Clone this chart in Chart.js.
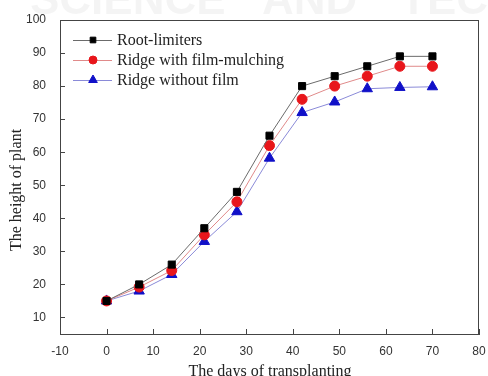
<!DOCTYPE html>
<html>
<head>
<meta charset="utf-8">
<script src="https://cdn.jsdelivr.net/npm/chart.js@4/dist/chart.umd.min.js"></script>
<style>
  html, body { margin: 0; padding: 0; background: #fff; }
  #wrap { width: 488px; height: 376px; }
</style>
</head>
<body>
<div id="wrap"><canvas id="chart" width="488" height="376"></canvas></div>
<script>
// data
const days = [0, 7, 14, 21, 28, 35, 42, 49, 56, 63, 70];
const rootLimiters = [15, 20, 26, 37, 48, 65, 80, 83, 86, 89, 89];
const filmMulching = [15, 19.2, 24.2, 35, 45, 62, 76, 80, 83, 86, 86];
const withoutFilm = [15, 18, 23, 33, 42, 58.2, 72, 75.2, 79.2, 79.6, 79.8];
const seriesNames = ['Root-limiters', 'Ridge with film-mulching', 'Ridge without film'];
const xTicks = [-10, 0, 10, 20, 30, 40, 50, 60, 70, 80];
const yTicks = [10, 20, 30, 40, 50, 60, 70, 80, 90, 100];

const serif = '"Liberation Serif", "DejaVu Serif", serif';
const sans = '"Liberation Sans", Arial, sans-serif';

function toPoints(ys) {
    return days.map((d, i) => ({ x: d, y: ys[i] }));
}

// faint watermark behind everything
const watermark = {
    id: 'watermark',
    beforeDraw(chart) {
        const ctx = chart.ctx;
        ctx.save();
        ctx.fillStyle = 'rgba(0,0,0,0.045)';
        ctx.font = 'bold 44px ' + sans;
        ctx.textBaseline = 'middle';
        ctx.fillText('SCIENCE', 30, 2);
        ctx.fillText('AND', 262, 2);
        ctx.fillText('TEC', 400, 2);
        ctx.restore();
    }
};

// box frame, inward ticks, axis titles and legend inside the plot
const decorations = {
    id: 'decorations',
    afterDraw(chart) {
        const ctx = chart.ctx;
        const a = chart.chartArea;
        const xs = chart.scales.x, ys = chart.scales.y;
        ctx.save();
        ctx.strokeStyle = '#444';
        ctx.lineWidth = 1;
        ctx.strokeRect(a.left + 0.5, a.top + 0.5, a.right - a.left - 1, a.bottom - a.top);

        ctx.beginPath();
        xTicks.forEach(v => {
            const px = Math.round(xs.getPixelForValue(v)) + 0.5;
            ctx.moveTo(px, a.bottom);
            ctx.lineTo(px, a.bottom - 5);
        });
        yTicks.forEach(v => {
            const py = Math.round(ys.getPixelForValue(v)) + 0.5;
            ctx.moveTo(a.left, py);
            ctx.lineTo(a.left + 5, py);
        });
        ctx.stroke();

        // axis titles
        ctx.fillStyle = '#222';
        ctx.font = '16px ' + serif;
        ctx.textAlign = 'center';
        ctx.textBaseline = 'alphabetic';
        ctx.fillText('The days of transplanting', 270, 376);
        ctx.save();
        ctx.translate(21, 190);
        ctx.rotate(-Math.PI / 2);
        ctx.fillText('The height of plant', 0, 0);
        ctx.restore();

        // legend
        const rowsY = [40, 60, 80];
        chart.data.datasets.forEach((ds, i) => {
            const y = rowsY[i];
            ctx.strokeStyle = ds.borderColor;
            ctx.lineWidth = 1;
            ctx.beginPath();
            ctx.moveTo(73, y + 0.5);
            ctx.lineTo(112, y + 0.5);
            ctx.stroke();
            ctx.fillStyle = ds.pointBackgroundColor;
            ctx.strokeStyle = ds.pointBorderColor;
            Chart.helpers.drawPoint(ctx, {
                pointStyle: ds.pointStyle,
                radius: ds.pointRadius - 1,
                borderWidth: 1,
                rotation: 0
            }, 93, y);
            ctx.fillStyle = '#222';
            ctx.font = '16px ' + serif;
            ctx.textAlign = 'left';
            ctx.textBaseline = 'middle';
            ctx.fillText(seriesNames[i], 117, y + 1);
        });
        ctx.restore();
    }
};

new Chart(document.getElementById('chart'), {
    type: 'line',
    data: {
        datasets: [
            {
                label: seriesNames[0],
                data: toPoints(rootLimiters),
                borderColor: '#6b6b6b',
                borderWidth: 1,
                pointStyle: 'rect',
                pointRadius: 5,
                pointBackgroundColor: '#000',
                pointBorderColor: '#000'
            },
            {
                label: seriesNames[1],
                data: toPoints(filmMulching),
                borderColor: '#e08a8a',
                borderWidth: 1,
                pointStyle: 'circle',
                pointRadius: 5,
                pointBackgroundColor: '#e8161b',
                pointBorderColor: '#e8161b'
            },
            {
                label: seriesNames[2],
                data: toPoints(withoutFilm),
                borderColor: '#8a8ad8',
                borderWidth: 1,
                pointStyle: 'triangle',
                pointRadius: 6,
                pointBackgroundColor: '#1010c8',
                pointBorderColor: '#1010c8'
            }
        ]
    },
    options: {
        responsive: false,
        animation: false,
        layout: { padding: { top: 20, right: 9, left: 0, bottom: 0 } },
        plugins: {
            legend: { display: false },
            tooltip: { enabled: false }
        },
        scales: {
            x: {
                type: 'linear',
                min: -10,
                max: 80,
                afterBuildTicks: s => { s.ticks = xTicks.map(v => ({ value: v })); },
                afterFit: s => { s.height = 42; },
                grid: { display: false },
                border: { display: true, color: '#444' },
                ticks: { color: '#333', font: { family: sans, size: 12 }, padding: 2 }
            },
            y: {
                min: 5,
                max: 100,
                afterBuildTicks: s => { s.ticks = yTicks.map(v => ({ value: v })); },
                afterFit: s => { s.width = 60; },
                grid: { display: false },
                border: { display: true, color: '#444' },
                ticks: { color: '#333', font: { family: sans, size: 12 }, padding: 6 }
            }
        }
    },
    plugins: [watermark, decorations]
});
</script>
</body>
</html>
